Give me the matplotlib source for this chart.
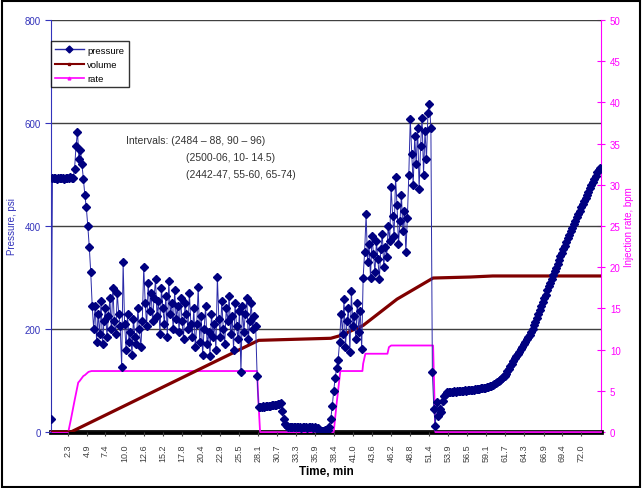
#!/usr/bin/env python3
"""Injection test: pressure, volume and rate vs time -> out.png"""

import numpy as np
import matplotlib
matplotlib.use("Agg")
import matplotlib.pyplot as plt
from matplotlib.lines import Line2D
from matplotlib.patches import Rectangle

plt.rcParams["font.family"] = ["Liberation Sans", "DejaVu Sans"]

# ── data ────────────────────────────────────────────────────────────
# pressure log, one reading every TIME_STEP minutes (psi)
TIME_STEP = 0.2
pressure = [
    25,                                                        # 0.0
    493, 494, 493, 492, 494, 493, 493, 494, 492, 493,          # 0.2 - 2.0
    494, 493, 495, 494, 493,                                   # 2.2 - 3.0
    510, 555, 583, 530, 548, 520, 492, 460, 436, 400,          # 3.2 - 5.0
    360, 310, 245,                                             # 5.2 - 5.6
    200, 245, 175, 230, 190, 255, 170, 215, 240, 185, 225,     # 5.8 - 7.8
    260, 200, 280, 215, 190, 270, 230, 205,                    # 8.0 - 9.4
    126, 330,                                                  # 9.6 - 9.8
    210, 160, 230, 175, 195, 150, 220, 185, 170, 240,          # 10.0 - 11.8
    200, 165, 215,                                             # 12.0 - 12.4
    320, 250, 205, 290, 235, 270, 215, 260,                    # 12.6 - 14.0
    297, 225, 255, 190, 280, 240, 210, 265, 185, 293,          # 14.2 - 16.0
    230, 250, 200, 275, 220,                                   # 16.2 - 17.0
    245, 195, 260, 215, 180, 250, 230, 200, 270, 210,          # 17.2 - 19.0
    185, 240, 165, 210, 282, 175, 225, 150, 200, 245,          # 19.2 - 21.0
    170, 195, 148, 230, 185, 210, 160,                         # 21.2 - 22.4
    301,                                                       # 22.6
    220, 185, 255, 200, 170, 240, 215, 265, 190, 225,          # 22.8 - 24.6
    160, 250, 205, 180, 235,                                   # 24.8 - 25.6
    116, 245, 195, 230, 260, 180, 215, 250, 200, 225,          # 25.8 - 27.6
    205, 109,                                                  # 27.8 - 28.0
    48, 49, 48, 50, 49, 50, 51, 50, 51, 52,                    # 28.2 - 30.0
    52, 53, 52, 54, 55, 56,                                    # 30.2 - 31.2
    40, 25, 16, 12, 10, 10, 9, 10, 9, 9,                       # 31.4 - 33.2
    9, 9, 9, 8, 9, 9, 9, 8, 9, 9, 9, 8, 9, 8, 8,               # 33.4 - 36.2
    3, 2, 2, 2, 3, 2, 4,                                       # 36.4 - 37.6
    10, 25, 50, 80, 105, 125, 140,                             # 37.8 - 39.0
    175, 230, 190, 258, 165, 215, 240, 155, 274, 205,          # 39.2 - 41.0
    225, 180, 250, 195, 235, 161,                              # 41.2 - 42.2
    300, 350, 423,                                             # 42.4 - 42.8
    330, 365, 300, 380, 345, 310, 370, 335, 297, 355,          # 43.0 - 44.8
    385, 320, 360, 340,                                        # 45.0 - 45.6
    400, 370, 475, 420, 380, 495, 440, 365, 410, 460,          # 45.8 - 47.6
    390, 430, 349, 415,                                        # 47.8 - 48.4
    500, 608, 540, 480, 575, 520, 590, 472, 555, 610,          # 48.6 - 50.4
    500, 585, 530, 620, 637, 590,                              # 50.6 - 51.6
    116, 45, 12, 58, 32, 45, 38, 60, 70, 74, 77,               # 51.8 - 53.8
    77, 78, 77, 78, 79, 78, 79, 80, 80, 79,                    # 54.0 - 55.8
    80, 81, 80, 81, 82, 81, 82,                                # 56.0 - 57.2
    82, 83, 83, 84, 84, 85, 85, 86, 86, 87,                    # 57.4 - 59.2
    88, 89, 90, 92, 94, 95, 97,                                # 59.4 - 60.6
    99, 101, 104, 106, 109, 113, 118, 123, 128, 133,           # 60.8 - 62.6
    138, 143, 147, 152, 156, 161, 166, 170, 175, 180,          # 62.8 - 64.6
    184, 189, 195, 200, 207, 214, 222, 229, 237, 244,          # 64.8 - 66.6
    252, 260, 267, 275, 283, 290, 298, 305, 312, 319,          # 66.8 - 68.6
    326, 334, 341, 348, 355, 362, 369, 376, 383, 390,          # 68.8 - 70.6
    397, 403, 410, 417, 423, 430, 436, 443, 449, 455,          # 70.8 - 72.6
    461, 467, 474, 480, 486, 492, 498, 504, 509, 513,          # 72.8 - 74.6
]
pressure_time = np.arange(len(pressure)) * TIME_STEP

# cumulative volume (plotted on the psi axis), breakpoints
volume_time = [0, 2.7, 28.2, 33.0, 38.0, 39.5, 41.0, 42.4, 47.0, 51.9, 57.0, 60.0, 74.7]
volume      = [0, 0, 178, 180, 182, 188, 198, 207, 258, 299, 301, 303, 303]

# injection rate, bpm, breakpoints
rate_time = [0, 2.35, 2.7, 3.2, 3.7, 3.9, 4.4, 4.6, 5.1, 5.5, 28.0, 28.1, 28.4,
             38.4, 38.8, 39.3, 42.3, 42.4, 42.7, 45.7, 45.9, 46.2, 51.9, 52.2, 74.7]
rate      = [0, 0, 1.5, 3.8, 6.0, 6.2, 6.8, 6.9, 7.3, 7.4, 7.4, 5.0, 0,
             0, 3.5, 7.4, 7.4, 8.3, 9.5, 9.5, 10.3, 10.5, 10.5, 0, 0]

x_ticks = [2.3, 4.9, 7.4, 10.0, 12.6, 15.2, 17.8, 20.4, 22.9, 25.5, 28.1, 30.7,
           33.3, 35.9, 38.4, 41.0, 43.6, 46.2, 48.8, 51.4, 53.9, 56.5, 59.1,
           61.7, 64.3, 66.9, 69.4, 72.0]
x_labels = [f"{v:.1f}" for v in x_ticks]

intervals = ["Intervals: (2484 – 88, 90 – 96)",
             "(2500-06, 10- 14.5)",
             "(2442-47, 55-60, 65-74)"]

# ── colours ─────────────────────────────────────────────────────────
C_P_MARK = "#000080"
C_P_LINE = "#2a2aa8"
C_VOL    = "#800000"
C_RATE   = "#ff00ff"
C_LEFT   = "#3333bb"

# ── figure ──────────────────────────────────────────────────────────
fig = plt.figure(figsize=(6.42, 4.89), dpi=100)
ax = fig.add_axes([0.0794, 0.1145, 0.8567, 0.8425])
ax2 = ax.twinx()
ax.set_zorder(ax2.get_zorder() + 1)
ax.patch.set_visible(False)

# rate on the right axis
ax2.plot(rate_time, rate, color=C_RATE, lw=1.3, zorder=3, clip_on=False)
ax2.set_ylim(0, 50)
ax2.set_yticks(range(0, 51, 5))
ax2.tick_params(axis="y", colors=C_RATE, labelsize=7, direction="inout", length=6)
ax2.set_ylabel("Injection rate, bpm", color=C_RATE, fontsize=7, labelpad=2)
for s in ("left", "top"):
    ax2.spines[s].set_visible(False)
ax2.spines["right"].set_color(C_RATE)
ax2.spines["bottom"].set_color("black")
ax2.spines["bottom"].set_linewidth(3.4)

# pressure and volume on the left axis
ax.plot(volume_time, volume, color=C_VOL, lw=2.3, zorder=3)
ax.plot(pressure_time, pressure, color=C_P_LINE, lw=0.7, marker="D", ms=3.8,
        mfc=C_P_MARK, mec=C_P_MARK, zorder=4)

ax.set_xlim(0, 74.7)
ax.set_ylim(0, 800)
ax.set_yticks([0, 200, 400, 600, 800])
ax.yaxis.grid(True, color="#404040", lw=1.0)
ax.set_axisbelow(True)
ax.tick_params(axis="y", colors=C_LEFT, labelsize=7, direction="out", length=4)
ax.set_ylabel("Pressure, psi", color=C_LEFT, fontsize=7, labelpad=5)
for s in ("right", "top", "bottom"):
    ax.spines[s].set_visible(False)
ax.spines["left"].set_color(C_LEFT)

ax.set_xticks(x_ticks)
ax.set_xticklabels(x_labels, rotation=90, fontsize=6.5, color="#404040")
ax.tick_params(axis="x", length=3, color="#404040", pad=5)
ax.set_xlabel("Time, min", fontsize=8.5, fontweight="bold", labelpad=3)

# legend
handles = [
    Line2D([], [], color=C_P_LINE, lw=1, marker="D", ms=3.5, mfc=C_P_MARK, mec=C_P_MARK),
    Line2D([], [], color=C_VOL, lw=1.5, marker="s", ms=2),
    Line2D([], [], color=C_RATE, lw=1.2, marker="^", ms=2),
]
leg = ax.legend(handles, ["pressure", "volume", "rate"], loc="upper left",
                bbox_to_anchor=(0.0, 0.948), fontsize=6.8, frameon=True,
                fancybox=False, edgecolor="black", borderaxespad=0,
                handlelength=3, handletextpad=0.4, labelspacing=0.55,
                borderpad=0.45)
leg.get_frame().set_linewidth(1.0)

# interval annotation
ax.text(0.136, 0.709, intervals[0], transform=ax.transAxes, fontsize=7.5,
        color="#333333", va="center")
for i, line in enumerate(intervals[1:]):
    ax.text(0.245, 0.667 - 0.041 * i, line, transform=ax.transAxes, fontsize=7.5,
            color="#333333", va="center")

# outer frame
fig.patches.append(Rectangle((0.003, 0.003), 0.994, 0.993, transform=fig.transFigure,
                             fill=False, lw=1.5, ec="black"))

fig.savefig("out.png", dpi=100)
